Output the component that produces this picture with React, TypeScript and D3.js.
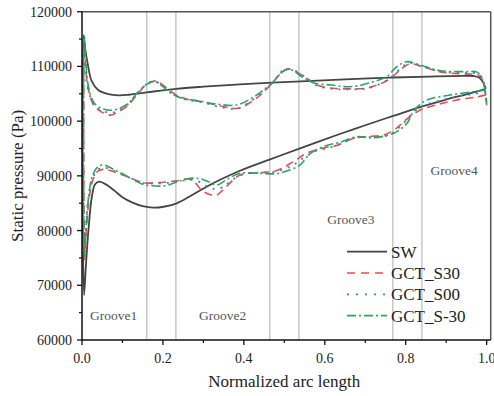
import React from "react";
import * as d3 from "d3";

type P = [number, number];

const xTicks = [0, 0.2, 0.4, 0.6, 0.8, 1.0];
const xMinor = [0.1, 0.3, 0.5, 0.7, 0.9];
const yTicks = [60000, 70000, 80000, 90000, 100000, 110000, 120000];
const yMinor = [65000, 75000, 85000, 95000, 105000, 115000];
const grooveEdges = [0.16, 0.232, 0.464, 0.536, 0.768, 0.84];
const grooveNames = ["Groove1", "Groove2", "Groove3", "Groove4"];
const grooveAnchorX = [0.02, 0.289, 0.606, 0.861];
const grooveAnchorY = [63650, 63650, 81200, 90150];

const swUpper: P[] = [[0.004,115700],[0.008,113200],[0.014,110500],[0.024,107300],[0.04,105700],[0.065,104950],[0.09,104720],[0.115,104820],[0.16,105250],[0.232,105900],[0.3,106300],[0.39,106730],[0.47,107050],[0.555,107330],[0.65,107640],[0.76,107950],[0.86,108150],[0.94,108270],[0.967,108250],[0.982,107950],[0.992,107000],[0.998,105900]];
const swLower: P[] = [[0.005,68200],[0.01,74000],[0.016,80100],[0.024,86000],[0.032,88400],[0.042,88930],[0.06,88400],[0.08,87300],[0.1,86100],[0.125,85100],[0.15,84450],[0.176,84180],[0.205,84400],[0.234,84980],[0.27,86400],[0.308,88020],[0.35,89600],[0.39,90940],[0.465,93020],[0.539,95030],[0.637,97650],[0.7,99250],[0.769,100950],[0.839,102640],[0.9,103950],[0.95,104900],[0.998,105900]];

const s30Upper: P[] = [[0.005,115000],[0.008,111000],[0.015,106000],[0.03,102800],[0.05,101600],[0.07,101100],[0.09,101700],[0.115,103000],[0.14,105200],[0.16,106700],[0.182,107350],[0.205,106300],[0.23,104900],[0.26,104000],[0.3,103500],[0.34,102800],[0.385,102350],[0.42,103600],[0.45,105400],[0.475,107400],[0.5,109300],[0.51,109550],[0.53,109000],[0.556,107800],[0.58,106600],[0.62,106000],[0.66,105900],[0.7,106000],[0.73,106600],[0.76,107700],[0.79,109600],[0.81,110500],[0.84,110000],[0.885,109000],[0.95,108600],[0.978,108500],[0.99,107500],[0.997,105000],[1.0,102900]];
const s30Lower: P[] = [[0.007,74620],[0.011,80000],[0.017,85500],[0.027,89300],[0.04,90900],[0.057,91190],[0.08,90700],[0.106,90000],[0.13,89300],[0.155,88700],[0.185,88750],[0.21,88900],[0.235,89100],[0.263,89450],[0.28,88700],[0.295,87400],[0.315,86600],[0.333,86500],[0.345,87200],[0.361,88330],[0.39,90150],[0.44,90580],[0.48,90940],[0.522,92580],[0.555,94120],[0.592,95000],[0.633,95640],[0.67,96850],[0.71,97200],[0.745,97460],[0.77,98300],[0.786,99290],[0.81,100800],[0.835,102000],[0.86,102640],[0.926,103860],[0.975,104400],[0.998,104800]];

const s00Upper: P[] = [[0.002,114500],[0.006,111000],[0.014,106200],[0.03,102900],[0.05,101900],[0.07,101500],[0.09,101900],[0.115,103200],[0.14,105300],[0.16,106800],[0.18,107300],[0.203,106200],[0.228,104800],[0.26,103900],[0.3,103400],[0.34,102600],[0.385,102300],[0.42,103800],[0.45,105500],[0.473,107300],[0.497,109300],[0.51,109550],[0.53,109100],[0.556,107800],[0.58,106500],[0.62,105900],[0.66,105800],[0.7,105900],[0.73,106600],[0.76,107800],[0.79,109800],[0.806,110700],[0.835,110100],[0.885,109100],[0.95,108800],[0.978,108700],[0.99,107600],[0.997,105200],[1.0,103000]];
const s00Lower: P[] = [[0.006,76000],[0.01,81000],[0.016,86000],[0.026,89500],[0.04,91200],[0.055,91500],[0.08,90900],[0.106,90100],[0.13,89200],[0.15,88700],[0.18,88600],[0.21,88700],[0.24,89000],[0.27,89300],[0.29,88900],[0.31,88000],[0.33,87600],[0.35,88000],[0.37,89200],[0.4,90300],[0.44,90600],[0.48,90800],[0.52,91900],[0.55,93400],[0.58,94600],[0.61,95100],[0.64,95900],[0.675,96950],[0.72,97100],[0.76,97500],[0.785,98900],[0.805,100500],[0.825,102000],[0.85,103000],[0.91,104200],[0.97,105000],[0.998,105300]];

const sm30Upper: P[] = [[0.006,115500],[0.009,111500],[0.016,106300],[0.03,103300],[0.05,102300],[0.075,102000],[0.1,102600],[0.118,103500],[0.135,105050],[0.16,106750],[0.18,107200],[0.2,106300],[0.222,105000],[0.25,104100],[0.28,103800],[0.333,103120],[0.382,102950],[0.419,104170],[0.445,105500],[0.469,106910],[0.49,108700],[0.505,109400],[0.52,109300],[0.543,108120],[0.576,106910],[0.617,106600],[0.65,106300],[0.685,106500],[0.72,107200],[0.753,108120],[0.778,109950],[0.802,110860],[0.835,110260],[0.885,109220],[0.95,109040],[0.975,109000],[0.988,108000],[0.996,105700],[1.0,103250]];
const sm30Lower: P[] = [[0.006,75230],[0.01,80500],[0.016,86000],[0.025,89800],[0.038,91600],[0.053,91980],[0.08,91100],[0.106,90150],[0.13,89200],[0.148,88500],[0.172,88200],[0.205,88200],[0.235,88900],[0.267,89550],[0.29,89500],[0.31,89000],[0.333,88330],[0.357,89300],[0.39,90460],[0.44,90460],[0.48,90400],[0.515,91100],[0.539,92000],[0.563,94000],[0.596,95330],[0.642,96240],[0.679,97150],[0.72,96950],[0.769,97760],[0.79,98700],[0.805,99800],[0.817,101500],[0.83,102700],[0.852,103860],[0.909,104770],[0.967,105380],[0.998,105700]];

const seriesNames = ["SW", "GCT_S30", "GCT_S00", "GCT_S-30"];
const seriesUpper = [swUpper, s30Upper, s00Upper, sm30Upper];
const seriesLower = [swLower, s30Lower, s00Lower, sm30Lower];
const seriesColors = ["#454545", "#f04a4a", "#3b7fe3", "#2aa65c"];
const seriesDash = ["none", "8,5", "2,6", "9,3,2,3"];
const seriesWidth = [1.8, 1.6, 1.8, 1.6];

const W = 494, H = 396;
const L = 82, R = 490.7, T = 11.7, B = 340;
const font = "'Liberation Serif', 'Times New Roman', serif";

export default function App() {
  const x = d3.scaleLinear().domain([0, 1.01]).range([L, R]);
  const y = d3.scaleLinear().domain([60000, 120000]).range([B, T]);
  const line = d3.line<P>().x(d => x(d[0])).y(d => y(d[1])).curve(d3.curveCatmullRom.alpha(0.5));
  const fmt = d3.format(".1f");
  return (
    <svg width={W} height={H} style={{ position: "absolute", left: 0, top: 0 }} fontFamily={font}>
      <defs>
        <clipPath id="plot"><rect x={L} y={T} width={R - L} height={B - T} /></clipPath>
      </defs>
      <rect x={0} y={0} width={W} height={H} fill="#fff" />
      {grooveEdges.map((g, i) => (
        <line key={i} x1={x(g)} x2={x(g)} y1={T} y2={B} stroke="#c8c8c8" strokeWidth={1.5} />
      ))}
      {grooveNames.map((n, i) => (
        <text key={n} x={x(grooveAnchorX[i])} y={y(grooveAnchorY[i])} fontSize={13.5} fill="#555">{n}</text>
      ))}
      <g clipPath="url(#plot)">
        {seriesNames.map((n, i) => (
          <path key={n} d={line([...seriesLower[i].slice().reverse(), ...seriesUpper[i]]) || ""}
            fill="none" stroke={seriesColors[i]} strokeWidth={seriesWidth[i]}
            strokeDasharray={seriesDash[i]} strokeLinejoin="round" />
        ))}
      </g>
      <line x1={L} x2={R} y1={T} y2={T} stroke="#555" strokeWidth={1.5} />
      <line x1={R} x2={R} y1={T} y2={B} stroke="#555" strokeWidth={1.5} />
      <line x1={L} x2={L} y1={T} y2={B + 0.7} stroke="#111" strokeWidth={1.5} />
      <line x1={L - 0.7} x2={R} y1={B} y2={B} stroke="#111" strokeWidth={1.5} />
      {xTicks.map(t => (
        <g key={t}>
          <line x1={x(t)} x2={x(t)} y1={B} y2={B + 5} stroke="#111" strokeWidth={1.3} />
          <text x={x(t)} y={363} fontSize={14} textAnchor="middle" fill="#222">{fmt(t)}</text>
        </g>
      ))}
      {xMinor.map(t => (
        <line key={t} x1={x(t)} x2={x(t)} y1={B} y2={B + 3} stroke="#111" strokeWidth={1.2} />
      ))}
      {yTicks.map(t => (
        <g key={t}>
          <line x1={L - 5} x2={L} y1={y(t)} y2={y(t)} stroke="#111" strokeWidth={1.3} />
          <text x={72} y={y(t) + 5} fontSize={14} textAnchor="end" fill="#222">{t}</text>
        </g>
      ))}
      {yMinor.map(t => (
        <line key={t} x1={L - 3} x2={L} y1={y(t)} y2={y(t)} stroke="#111" strokeWidth={1.2} />
      ))}
      <text x={(L + R) / 2 - 2} y={387} fontSize={17} textAnchor="middle" fill="#222">Normalized arc length</text>
      <text transform={`translate(23,${(T + B) / 2}) rotate(-90)`} fontSize={17} textAnchor="middle" fill="#222">Static pressure (Pa)</text>
      {seriesNames.map((n, i) => {
        const ly = 251.7 + i * 21.3;
        return (
          <g key={n}>
            <line x1={347} x2={387} y1={ly} y2={ly} stroke={seriesColors[i]} strokeWidth={seriesWidth[i]} strokeDasharray={i === 1 ? "8,6" : i === 2 ? "2,7" : seriesDash[i]} />
            <text x={391} y={ly + 6} fontSize={17} fill="#222">{n}</text>
          </g>
        );
      })}
    </svg>
  );
}
